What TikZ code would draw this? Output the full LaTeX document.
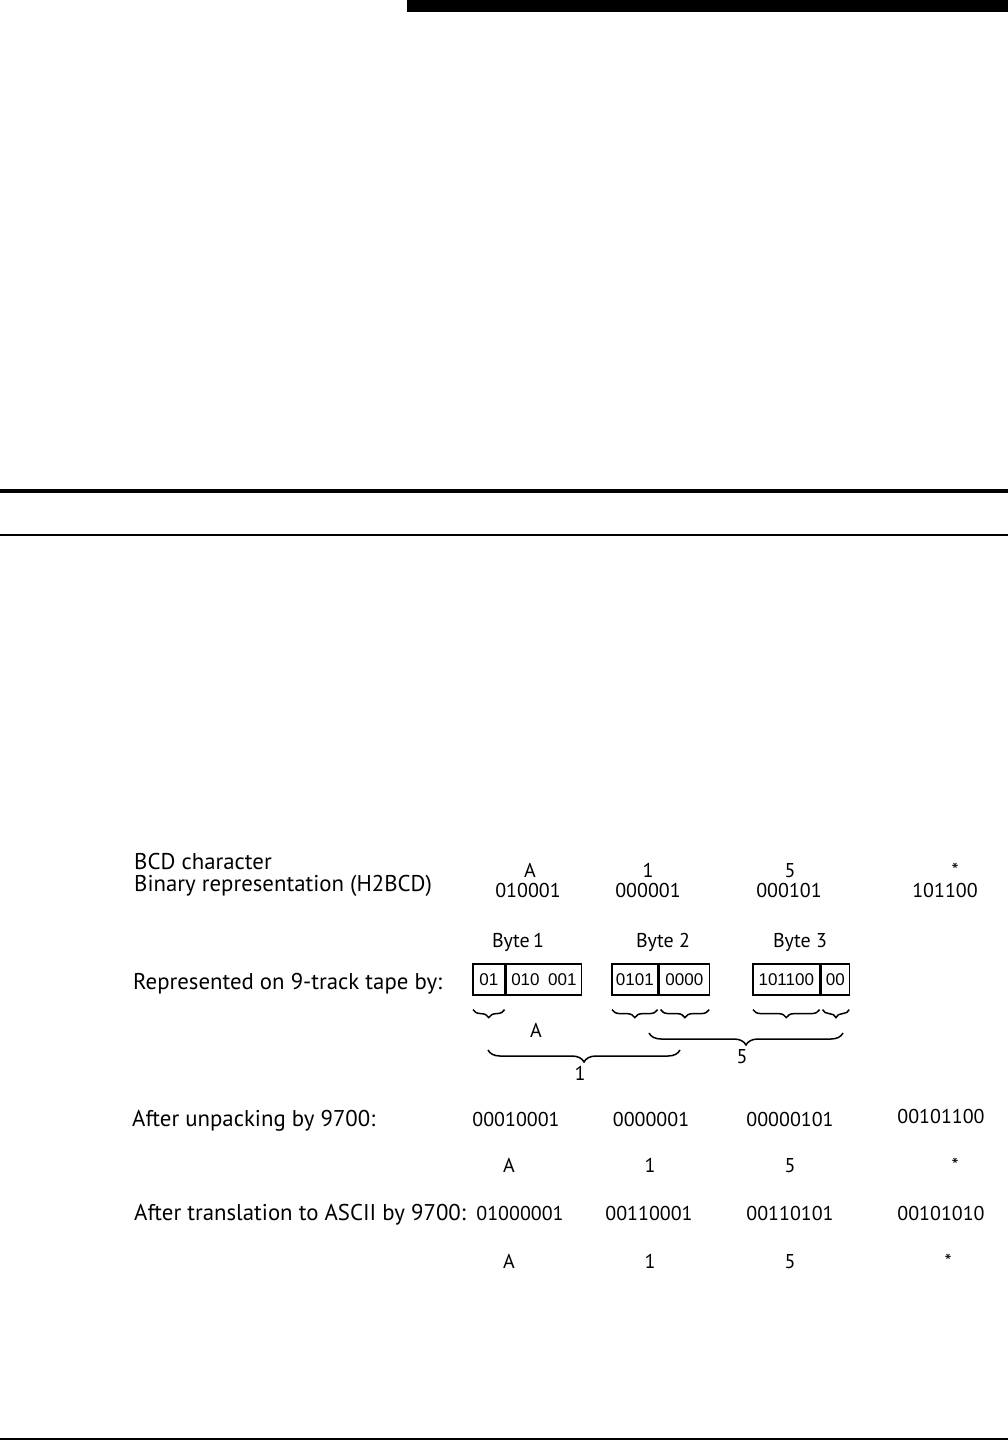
\documentclass[tikz,border=0pt]{standalone}
\usepackage{fontspec}
\setmainfont{PT Sans}
\newfontfamily\cellfont{Liberation Sans}
\usetikzlibrary{decorations.pathreplacing}
\begin{document}
\begin{tikzpicture}[x=1pt, y=-1pt,
    txt/.style={inner sep=0pt, font=\fontsize{20}{24}\selectfont},
    lbl/.style={inner sep=0pt, anchor=base west, font=\fontsize{22.8}{27}\selectfont},
    val/.style={txt, anchor=base},
    cell/.style={draw, line width=1.6pt, anchor=north west, minimum height=31pt,
      inner sep=0pt, text depth=-3pt, font=\cellfont\fontsize{17}{20}\selectfont},
    brc/.style={decorate, line width=1.5pt, decoration={brace, mirror, amplitude=#1}}]
    \useasboundingbox (0,0) rectangle (1008,1440);

    % Page rules
    \fill (407,0) rectangle (1008,12);
    \fill (0,489) rectangle (1008,493);
    \draw[line width=1.3pt] (0,535) -- (1008,535);
    \draw[line width=1.3pt] (0,1439) -- (1008,1439);

    % Row labels
    \node[lbl] (lchar) at (134,869) {BCD character};
    \node[lbl] (lbin) at (134,891) {Binary representation (H2BCD)};
    \node[lbl] (ltape) at (133,989) {Represented on 9-track tape by:};
    \node[lbl] (lunpack) at (132,1126) {After unpacking by 9700:};
    \node[lbl] (lascii) at (134,1220) {After translation to ASCII by 9700:};

    % BCD characters and codes
    \node[val] (chA) at (530,877) {A};
    \node[val] (ch1) at (648,877) {1};
    \node[val] (ch5) at (790,877) {5};
    \node[val] (chS) at (955,877) {*};
    \node[val] (binA) at (528,897) {010001};
    \node[val] (bin1) at (648,897) {000001};
    \node[val] (bin5) at (789,897) {000101};
    \node[val] (binS) at (945,897) {101100};

    % Bytes on tape
    \node[val] (byte1) at (518,947) {Byte\,1};
    \node[val] (byte2) at (663,947) {Byte 2};
    \node[val] (byte3) at (800,947) {Byte 3};
    \node[cell, minimum width=32pt] (b1a) at (472,963) {01};
    \node[cell, minimum width=75pt] (b1b) at (b1a.north east) {010\enspace 001};
    \node[cell, minimum width=46pt] (b2a) at (611,963) {0101};
    \node[cell, minimum width=50pt] (b2b) at (b2a.north east) {0000};
    \node[cell, minimum width=67pt] (b3a) at (752,963) {101100};
    \node[cell, minimum width=28pt] (b3b) at (b3a.north east) {00};

    % Small braces under the bit groups
    \draw[brc=8pt] ([xshift=1pt,yshift=-14pt]b1a.south west) -- ([xshift=-1pt,yshift=-14pt]b1a.south east);
    \draw[brc=8pt] ([xshift=1pt,yshift=-14pt]b2a.south west) -- ([xshift=-1pt,yshift=-14pt]b2a.south east);
    \draw[brc=8pt] ([xshift=2pt,yshift=-14pt]b2b.south west) -- ([xshift=-1pt,yshift=-14pt]b2b.south east);
    \draw[brc=8pt] ([xshift=1pt,yshift=-14pt]b3a.south west) -- ([xshift=-1pt,yshift=-14pt]b3a.south east);
    \draw[brc=8pt] ([xshift=2pt,yshift=-14pt]b3b.south west) -- ([xshift=-1pt,yshift=-14pt]b3b.south east);
    \node[val] (grpA) at (536,1037) {A};

    % Large braces
    \coordinate (oneL) at (488,1050);
    \coordinate (oneR) at (680,1050);
    \coordinate (fiveL) at (649,1033);
    \coordinate (fiveR) at (843,1033);
    \draw[brc=12pt] (oneL) -- (oneR);
    \draw[brc=12pt] (fiveL) -- (fiveR);
    \node[val] (grp1) at (580,1080) {1};
    \node[val] (grp5) at (742,1063) {5};

    % After unpacking
    \node[val] (unA) at (516,1126) {00010001};
    \node[val] (un1) at (651,1126) {0000001};
    \node[val] (un5) at (790,1126) {00000101};
    \node[val] (unS) at (941,1123) {00101100};
    \node[val] (uchA) at (509,1172) {A};
    \node[val] (uch1) at (650,1172) {1};
    \node[val] (uch5) at (790,1172) {5};
    \node[val] (uchS) at (955,1172) {*};

    % After translation to ASCII
    \node[val] (asA) at (520,1220) {01000001};
    \node[val] (as1) at (649,1220) {00110001};
    \node[val] (as5) at (790,1220) {00110101};
    \node[val] (asS) at (941,1220) {00101010};
    \node[val] (achA) at (509,1268) {A};
    \node[val] (ach1) at (650,1268) {1};
    \node[val] (ach5) at (790,1268) {5};
    \node[val] (achS) at (948,1268) {*};
\end{tikzpicture}
\end{document}
